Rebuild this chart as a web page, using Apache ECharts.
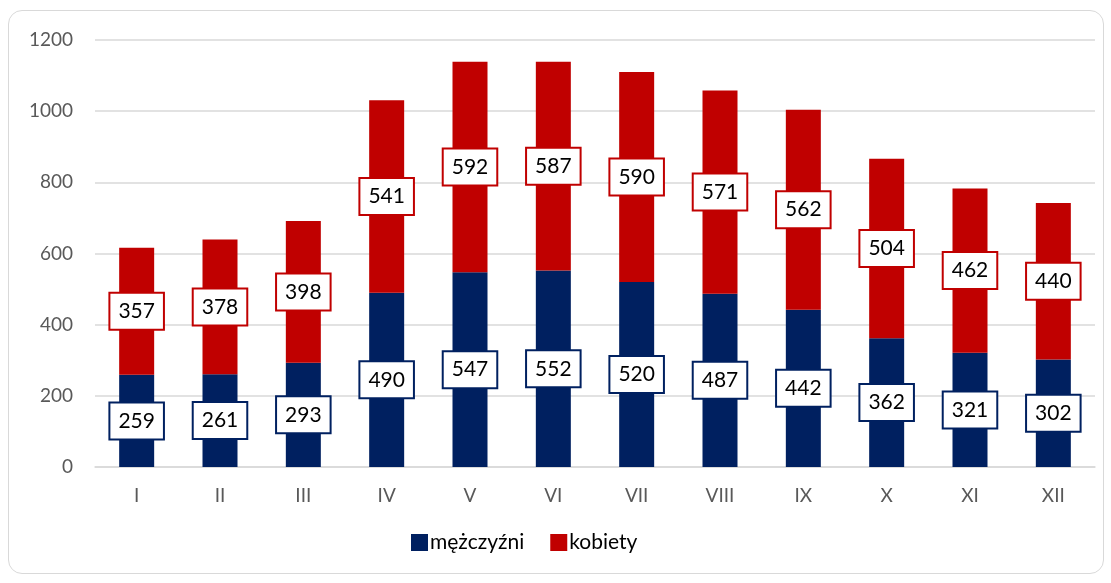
<!DOCTYPE html>
<html><head><meta charset="utf-8">
<script src="https://cdn.jsdelivr.net/npm/echarts@6/dist/echarts.min.js"></script>
<style>
html,body{margin:0;padding:0;background:#fff;}
#frame{position:absolute;left:8px;top:10px;width:1096px;height:564px;border:1.5px solid #d9d9d9;border-radius:14px;box-sizing:border-box;}
#c{position:absolute;left:0;top:0;width:1111px;height:583px;}
</style></head>
<body>
<div id="frame"></div>
<div id="c"></div>
<script>
const categories = ['I','II','III','IV','V','VI','VII','VIII','IX','X','XI','XII'];
const men = [259,261,293,490,547,552,520,487,442,362,321,302];
const women = [357,378,398,541,592,587,590,571,562,504,462,440];
const yTicks = [0,200,400,600,800,1000,1200];

const font = 'Lato, "Open Sans", sans-serif';
function lbl(color){
  return {show:true,position:'inside',color:'#000',fontSize:21,lineHeight:21,fontFamily:font,
    backgroundColor:'#fff',borderColor:color,borderWidth:2,padding:[7,8,7,8]};
}
const chart = echarts.init(document.getElementById('c'));
chart.setOption({
  animation:false,
  grid:{left:95,right:16,top:40,bottom:116,containLabel:false},
  legend:{bottom:25,left:406,itemWidth:17,itemHeight:17,itemGap:26,icon:'rect',
    textStyle:{fontSize:21,color:'#000',fontFamily:font,padding:[0,0,0,-3]},
    data:['mężczyźni','kobiety']},
  xAxis:{type:'category',data:categories,
    axisLine:{show:true,lineStyle:{color:'#d9d9d9',width:1.5}},
    axisTick:{show:false},
    axisLabel:{color:'#595959',fontSize:19,fontFamily:font,margin:19}},
  yAxis:{type:'value',min:0,max:1200,interval:200,
    axisLine:{show:false},axisTick:{show:false},
    splitLine:{lineStyle:{color:'#d9d9d9',width:1.5}},
    axisLabel:{color:'#595959',fontSize:19,fontFamily:font,margin:22,
      formatter:v=>yTicks.includes(v)?String(v):''}},
  series:[
    {name:'mężczyźni',type:'bar',stack:'a',data:men,barWidth:'42%',
      itemStyle:{color:'#002060'},label:lbl('#002060')},
    {name:'kobiety',type:'bar',stack:'a',data:women,barWidth:'42%',
      itemStyle:{color:'#C00000'},label:lbl('#C00000')}
  ]
});
</script>
</body></html>
